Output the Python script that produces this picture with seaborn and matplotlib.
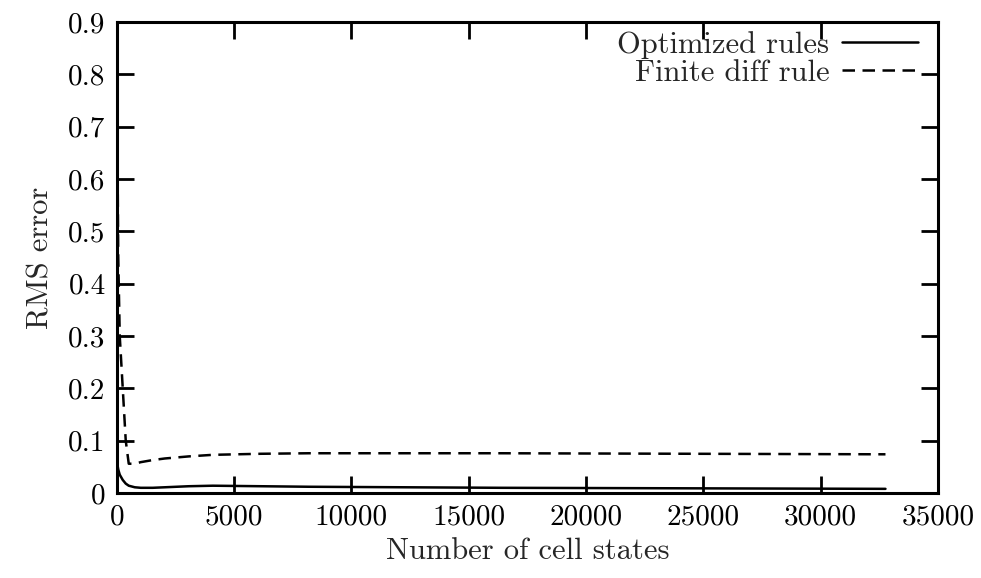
import numpy as np
import pandas as pd
import matplotlib
matplotlib.use("Agg")
import matplotlib.pyplot as plt
import seaborn as sns

# Data
cell_states = [8, 64, 128, 256, 384, 512, 768, 1024, 1536, 2048, 3072, 4096,
               6144, 8192, 12288, 16384, 24576, 32768]
optimized = [0.060, 0.045, 0.035, 0.025, 0.018, 0.014, 0.011, 0.010, 0.010,
             0.011, 0.013, 0.014, 0.013, 0.012, 0.011, 0.010, 0.009, 0.008]
finite_diff = [0.80, 0.45, 0.30, 0.20, 0.10, 0.056, 0.056, 0.059, 0.063,
               0.066, 0.070, 0.073, 0.075, 0.076, 0.076, 0.076, 0.075, 0.074]

x_ticks = [0, 5000, 10000, 15000, 20000, 25000, 30000, 35000]
y_ticks = [0, 0.1, 0.2, 0.3, 0.4, 0.5, 0.6, 0.7, 0.8, 0.9]

df = pd.DataFrame({"states": cell_states, "opt": optimized, "fd": finite_diff})

sns.set_theme(style="ticks")
plt.rcParams["font.family"] = ["cmr10", "DejaVu Serif"]
plt.rcParams["axes.formatter.use_mathtext"] = True

fig, ax = plt.subplots(figsize=(9.81, 5.78), dpi=100)
fig.subplots_adjust(left=0.119, right=0.956, top=0.962, bottom=0.147)

sns.lineplot(data=df, x="states", y="opt", ax=ax, color="black", lw=1.8,
             label="Optimized rules")
sns.lineplot(data=df, x="states", y="fd", ax=ax, color="black", lw=1.8,
             label="Finite diff rule")
ax.lines[1].set_linestyle((0, (5, 3)))

ax.set_xlim(0, 35000)
ax.set_ylim(0, 0.9)
ax.set_xticks(x_ticks)
ax.set_yticks(y_ticks)
ax.set_xticklabels([str(t) for t in x_ticks])
ax.set_yticklabels(["0"] + [f"{t:.1f}" for t in y_ticks[1:]])

ax.tick_params(direction="in", length=12, width=2, labelsize=21,
               top=True, right=True, pad=8, colors="black")
for sp in ax.spines.values():
    sp.set_linewidth(2.2)
    sp.set_color("black")

ax.set_xlabel("Number of cell states", fontsize=22, labelpad=5)
ax.set_ylabel("RMS error", fontsize=22, labelpad=10)

leg = ax.legend(loc="upper right", bbox_to_anchor=(0.987, 1.0),
                frameon=False, markerfirst=False,
                fontsize=22, handlelength=2.5, labelspacing=0.0,
                borderaxespad=0.0, borderpad=0.3, handletextpad=0.4)
leg.get_lines()[1].set_linestyle((0, (5, 3)))

fig.savefig("out.png", dpi=100, facecolor="white")
